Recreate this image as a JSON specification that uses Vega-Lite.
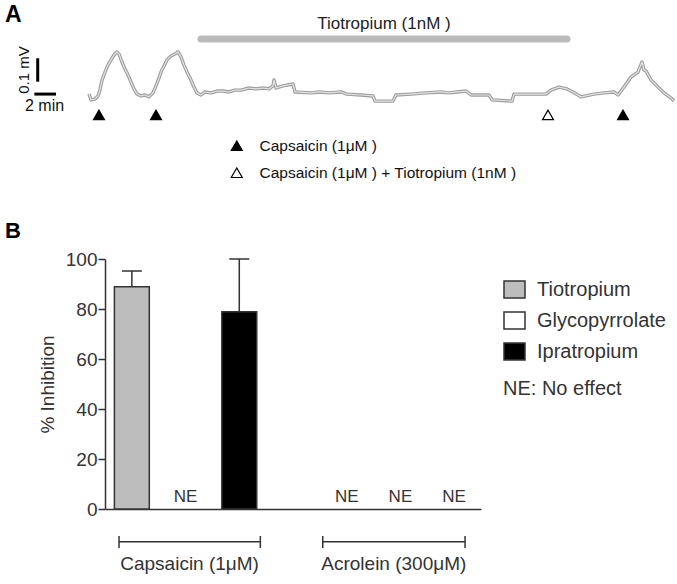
{
  "$schema": "https://vega.github.io/schema/vega-lite/v6.json",
  "background": "white",
  "padding": {"left": 4, "top": 4, "right": 0, "bottom": 0},
  "spacing": 29,
  "config": {"font": "Liberation Sans", "view": {"stroke": null}},
  "resolve": {
    "scale": {"x": "independent", "y": "independent", "fill": "independent"},
    "legend": {"fill": "independent"}
  },
  "vconcat": [
    {
      "width": 573,
      "height": 186,
      "layer": [
        {
          "data": {"name": "trace", "values": [
            {"t": 0, "mV": -0.005}, {"t": 0.18, "mV": -0.03}, {"t": 0.55, "mV": -0.026}, {"t": 0.83, "mV": -0.013},
            {"t": 1.01, "mV": 0.012}, {"t": 1.2, "mV": 0.055}, {"t": 1.48, "mV": 0.089}, {"t": 1.75, "mV": 0.119},
            {"t": 2.03, "mV": 0.141}, {"t": 2.31, "mV": 0.162}, {"t": 2.58, "mV": 0.175}, {"t": 2.77, "mV": 0.166},
            {"t": 3.04, "mV": 0.132}, {"t": 3.32, "mV": 0.102}, {"t": 3.6, "mV": 0.077}, {"t": 3.87, "mV": 0.047},
            {"t": 4.15, "mV": 0.017}, {"t": 4.43, "mV": -0.005}, {"t": 4.8, "mV": -0.013}, {"t": 5.16, "mV": -0.009},
            {"t": 5.53, "mV": -0.017}, {"t": 5.9, "mV": 0.0}, {"t": 6.18, "mV": 0.03}, {"t": 6.46, "mV": 0.064},
            {"t": 6.64, "mV": 0.089}, {"t": 6.92, "mV": 0.115}, {"t": 7.19, "mV": 0.141}, {"t": 7.56, "mV": 0.158},
            {"t": 7.93, "mV": 0.166}, {"t": 8.21, "mV": 0.175}, {"t": 8.48, "mV": 0.154}, {"t": 8.76, "mV": 0.119},
            {"t": 9.04, "mV": 0.089}, {"t": 9.41, "mV": 0.055}, {"t": 9.68, "mV": 0.025}, {"t": 9.96, "mV": 0.0},
            {"t": 10.33, "mV": -0.009}, {"t": 10.7, "mV": 0.004}, {"t": 11.25, "mV": 0.0}, {"t": 11.8, "mV": 0.008},
            {"t": 12.36, "mV": 0.008}, {"t": 12.91, "mV": 0.004}, {"t": 13.46, "mV": 0.012}, {"t": 14.02, "mV": 0.012},
            {"t": 14.76, "mV": 0.021}, {"t": 15.4, "mV": 0.017}, {"t": 16.05, "mV": 0.021}, {"t": 16.6, "mV": 0.017},
            {"t": 16.97, "mV": 0.03}, {"t": 17.06, "mV": 0.055}, {"t": 17.25, "mV": 0.021}, {"t": 17.89, "mV": 0.03},
            {"t": 18.81, "mV": 0.038}, {"t": 19.0, "mV": 0.004}, {"t": 20.47, "mV": 0.0}, {"t": 21.21, "mV": 0.004},
            {"t": 22.13, "mV": 0.0}, {"t": 23.24, "mV": 0.004}, {"t": 23.79, "mV": -0.005}, {"t": 25.08, "mV": -0.009},
            {"t": 26.19, "mV": -0.013}, {"t": 26.38, "mV": -0.035}, {"t": 28.04, "mV": -0.035}, {"t": 28.31, "mV": -0.009},
            {"t": 29.7, "mV": -0.005}, {"t": 31.08, "mV": 0.0}, {"t": 32.46, "mV": 0.004}, {"t": 33.2, "mV": 0.0},
            {"t": 33.94, "mV": 0.004}, {"t": 34.77, "mV": 0.008}, {"t": 35.24, "mV": -0.009}, {"t": 36.89, "mV": -0.009},
            {"t": 37.17, "mV": -0.03}, {"t": 39.01, "mV": -0.035}, {"t": 39.2, "mV": -0.005}, {"t": 42.15, "mV": -0.005},
            {"t": 42.61, "mV": 0.012}, {"t": 43.35, "mV": 0.025}, {"t": 44.08, "mV": 0.017}, {"t": 44.64, "mV": 0.004},
            {"t": 45.37, "mV": -0.017}, {"t": 46.57, "mV": -0.005}, {"t": 47.5, "mV": 0.0}, {"t": 48.42, "mV": 0.004},
            {"t": 48.79, "mV": -0.009}, {"t": 49.34, "mV": 0.025}, {"t": 49.99, "mV": 0.068}, {"t": 50.63, "mV": 0.089},
            {"t": 51.0, "mV": 0.132}, {"t": 51.19, "mV": 0.098}, {"t": 51.37, "mV": 0.094}, {"t": 51.83, "mV": 0.055},
            {"t": 52.48, "mV": 0.025}, {"t": 53.03, "mV": 0.0}, {"t": 53.68, "mV": -0.022}, {"t": 53.96, "mV": -0.035}
          ]},
          "layer": [
            {
              "mark": {"type": "line", "stroke": "#9c9c9c", "strokeWidth": 3.4, "strokeJoin": "round"},
              "encoding": {
                "x": {"field": "t", "type": "quantitative", "scale": {"domain": [1.476, 54.32], "nice": false, "zero": false}, "axis": null},
                "y": {"field": "mV", "type": "quantitative", "scale": {"domain": [-0.415, 0.38], "nice": false, "zero": false}, "axis": null}
              }
            },
            {
              "mark": {"type": "line", "stroke": "#e4e4e4", "strokeWidth": 1.2, "strokeJoin": "round"},
              "encoding": {
                "x": {"field": "t", "type": "quantitative"},
                "y": {"field": "mV", "type": "quantitative"}
              }
            }
          ]
        },
        {
          "data": {"values": [{"treatment": "Tiotropium (1nM )", "start": 10.33, "end": 44.08}]},
          "layer": [
            {
              "mark": {"type": "rule", "strokeWidth": 7, "strokeCap": "round", "color": "#bbbbbb"},
              "encoding": {
                "x": {"field": "start", "type": "quantitative"},
                "x2": {"field": "end"},
                "y": {"datum": 0.23}
              }
            },
            {
              "mark": {"type": "text", "fontSize": 17, "color": "#222"},
              "encoding": {
                "x": {"datum": 27.2},
                "y": {"datum": 0.2945},
                "text": {"field": "treatment"}
              }
            }
          ]
        },
        {
          "data": {"values": [
            {"time": 0.92, "stimulus": "Capsaicin (1μM )"},
            {"time": 6.18, "stimulus": "Capsaicin (1μM )"},
            {"time": 42.33, "stimulus": "Capsaicin (1μM ) + Tiotropium (1nM )"},
            {"time": 49.25, "stimulus": "Capsaicin (1μM )"}
          ]},
          "mark": {"type": "point", "shape": "triangle-up", "size": 120, "filled": true, "stroke": "#000", "strokeWidth": 1.2, "opacity": 1},
          "encoding": {
            "x": {"field": "time", "type": "quantitative"},
            "y": {"datum": -0.094},
            "fill": {
              "field": "stimulus", "type": "nominal",
              "scale": {"domain": ["Capsaicin (1μM )", "Capsaicin (1μM ) + Tiotropium (1nM )"], "range": ["#000000", "#ffffff"]},
              "legend": {
                "orient": "none", "legendX": 124, "legendY": 134, "title": null, "padding": 0,
                "labelFontSize": 15.5, "labelColor": "#111", "labelLimit": 500, "symbolType": "triangle-up", "symbolSize": 120,
                "symbolStrokeColor": "#000", "symbolStrokeWidth": 1.2, "labelOffset": 15, "rowPadding": 10
              }
            }
          }
        },
        {
          "data": {"values": [{"amplitude": "0.1 mV", "duration": "2 min"}]},
          "layer": [
            {
              "mark": {"type": "rule", "strokeWidth": 3, "color": "#000"},
              "encoding": {"x": {"datum": -4.73}, "y": {"datum": 0.048}, "y2": {"datum": 0.148}}
            },
            {
              "mark": {"type": "rule", "strokeWidth": 3, "color": "#000"},
              "encoding": {"x": {"datum": -5.04}, "x2": {"datum": -3.04}, "y": {"datum": -0.005}}
            },
            {
              "mark": {"type": "text", "fontSize": 15, "angle": 270, "color": "#111"},
              "encoding": {"x": {"datum": -6.04}, "y": {"datum": 0.098}, "text": {"field": "amplitude"}}
            },
            {
              "mark": {"type": "text", "fontSize": 16, "color": "#111"},
              "encoding": {"x": {"datum": -4.1}, "y": {"datum": -0.056}, "text": {"field": "duration"}}
            },
            {
              "mark": {"type": "text", "fontSize": 23, "fontWeight": "bold", "align": "left", "baseline": "top", "color": "#000"},
              "encoding": {"x": {"datum": -7.75}, "y": {"datum": 0.38}, "text": {"value": "A"}}
            }
          ]
        }
      ]
    },
    {
      "width": 376,
      "height": 250,
      "data": {"values": [
        {"stimulus": "Capsaicin (1μM)", "drug": "Tiotropium", "inhibition": 88.9, "upper": 95.2, "effect": null},
        {"stimulus": "Capsaicin (1μM)", "drug": "Glycopyrrolate", "inhibition": 0, "upper": null, "effect": "NE"},
        {"stimulus": "Capsaicin (1μM)", "drug": "Ipratropium", "inhibition": 78.9, "upper": 100, "effect": null},
        {"stimulus": "Acrolein (300μM)", "drug": "Tiotropium", "inhibition": 0, "upper": null, "effect": "NE"},
        {"stimulus": "Acrolein (300μM)", "drug": "Glycopyrrolate", "inhibition": 0, "upper": null, "effect": "NE"},
        {"stimulus": "Acrolein (300μM)", "drug": "Ipratropium", "inhibition": 0, "upper": null, "effect": "NE"}
      ]},
      "layer": [
        {
          "transform": [{"filter": "datum.inhibition > 0"}],
          "mark": {"type": "bar", "stroke": "#333", "strokeWidth": 1.5},
          "encoding": {
            "x": {
              "field": "stimulus", "type": "nominal",
              "scale": {"domain": ["Capsaicin (1μM)", "Acrolein (300μM)"], "paddingInner": 0.25, "paddingOuter": 0},
              "axis": {"title": null, "labels": false, "ticks": false, "domainColor": "#333", "domainWidth": 1.5}
            },
            "xOffset": {
              "field": "drug", "type": "nominal",
              "scale": {"domain": ["Tiotropium", "Glycopyrrolate", "Ipratropium"], "paddingInner": 0.35, "paddingOuter": 0.175}
            },
            "y": {
              "field": "inhibition", "type": "quantitative",
              "scale": {"domain": [0, 100], "nice": false},
              "axis": {
                "title": "% Inhibition", "values": [0, 20, 40, 60, 80, 100], "grid": false,
                "tickSize": 7, "tickColor": "#333", "tickWidth": 1.5, "labelPadding": 1,
                "labelFontSize": 19, "labelColor": "#333", "titleFontSize": 19, "titleFontWeight": "normal",
                "titleColor": "#333", "titlePadding": 8, "domainColor": "#333", "domainWidth": 1.5
              }
            },
            "fill": {
              "field": "drug", "type": "nominal",
              "scale": {"domain": ["Tiotropium", "Glycopyrrolate", "Ipratropium"], "range": ["#bdbdbd", "#ffffff", "#000000"]},
              "legend": {
                "orient": "none", "legendX": 398, "legendY": 19, "padding": 0,
                "title": "NE: No effect", "titleOrient": "bottom", "titleFontSize": 20, "titleFontWeight": "normal",
                "titleColor": "#333", "titlePadding": 16, "labelFontSize": 20, "labelColor": "#333",
                "symbolType": "M-1,-0.8H1V0.8H-1Z", "symbolSize": 441, "symbolStrokeColor": "#333",
                "symbolStrokeWidth": 1.5, "symbolOpacity": 1, "labelOffset": 11, "rowPadding": 8
              }
            }
          }
        },
        {
          "transform": [{"filter": "datum.upper != null"}],
          "mark": {"type": "rule", "color": "#333", "strokeWidth": 1.5},
          "encoding": {
            "x": {"field": "stimulus", "type": "nominal"},
            "xOffset": {"field": "drug", "type": "nominal"},
            "y": {"field": "inhibition", "type": "quantitative"},
            "y2": {"field": "upper"}
          }
        },
        {
          "transform": [{"filter": "datum.upper != null"}],
          "mark": {"type": "tick", "orient": "horizontal", "size": 20, "thickness": 1.5, "color": "#333", "opacity": 1},
          "encoding": {
            "x": {"field": "stimulus", "type": "nominal"},
            "xOffset": {"field": "drug", "type": "nominal"},
            "y": {"field": "upper", "type": "quantitative"}
          }
        },
        {
          "transform": [{"filter": "datum.effect == 'NE'"}],
          "mark": {"type": "text", "fontSize": 17, "color": "#333", "baseline": "alphabetic", "dy": -7},
          "encoding": {
            "x": {"field": "stimulus", "type": "nominal"},
            "xOffset": {"field": "drug", "type": "nominal"},
            "y": {"field": "inhibition", "type": "quantitative"},
            "text": {"field": "effect"}
          }
        },
        {
          "data": {"values": [{"group": "Capsaicin (1μM)"}]},
          "layer": [
            {"mark": {"type": "rule", "color": "#333", "strokeWidth": 1.5},
             "encoding": {"x": {"datum": "Capsaicin (1μM)", "bandPosition": 0.087}, "x2": {"datum": "Capsaicin (1μM)", "bandPosition": 0.964}, "y": {"datum": -13.1}}},
            {"mark": {"type": "rule", "color": "#333", "strokeWidth": 1.5},
             "encoding": {"x": {"datum": "Capsaicin (1μM)", "bandPosition": 0.087}, "y": {"datum": -10.8}, "y2": {"datum": -15.6}}},
            {"mark": {"type": "rule", "color": "#333", "strokeWidth": 1.5},
             "encoding": {"x": {"datum": "Capsaicin (1μM)", "bandPosition": 0.964}, "y": {"datum": -10.8}, "y2": {"datum": -15.6}}},
            {"mark": {"type": "text", "fontSize": 19, "color": "#333", "baseline": "middle"},
             "encoding": {"x": {"datum": "Capsaicin (1μM)", "bandPosition": 0.525}, "y": {"datum": -22}, "text": {"field": "group"}}},
            {"mark": {"type": "text", "fontSize": 22, "fontWeight": "bold", "align": "left", "baseline": "middle", "dx": -100, "color": "#000"},
             "encoding": {"x": {"datum": "Capsaicin (1μM)", "bandPosition": 0}, "y": {"datum": 111.4}, "text": {"value": "B"}}}
          ]
        },
        {
          "data": {"values": [{"group": "Acrolein (300μM)"}]},
          "layer": [
            {"mark": {"type": "rule", "color": "#333", "strokeWidth": 1.5},
             "encoding": {"x": {"datum": "Acrolein (300μM)", "bandPosition": 0.018}, "x2": {"datum": "Acrolein (300μM)", "bandPosition": 0.901}, "y": {"datum": -13.1}}},
            {"mark": {"type": "rule", "color": "#333", "strokeWidth": 1.5},
             "encoding": {"x": {"datum": "Acrolein (300μM)", "bandPosition": 0.018}, "y": {"datum": -10.8}, "y2": {"datum": -15.6}}},
            {"mark": {"type": "rule", "color": "#333", "strokeWidth": 1.5},
             "encoding": {"x": {"datum": "Acrolein (300μM)", "bandPosition": 0.901}, "y": {"datum": -10.8}, "y2": {"datum": -15.6}}},
            {"mark": {"type": "text", "fontSize": 19, "color": "#333", "baseline": "middle"},
             "encoding": {"x": {"datum": "Acrolein (300μM)", "bandPosition": 0.459}, "y": {"datum": -22}, "text": {"field": "group"}}}
          ]
        }
      ]
    }
  ]
}
